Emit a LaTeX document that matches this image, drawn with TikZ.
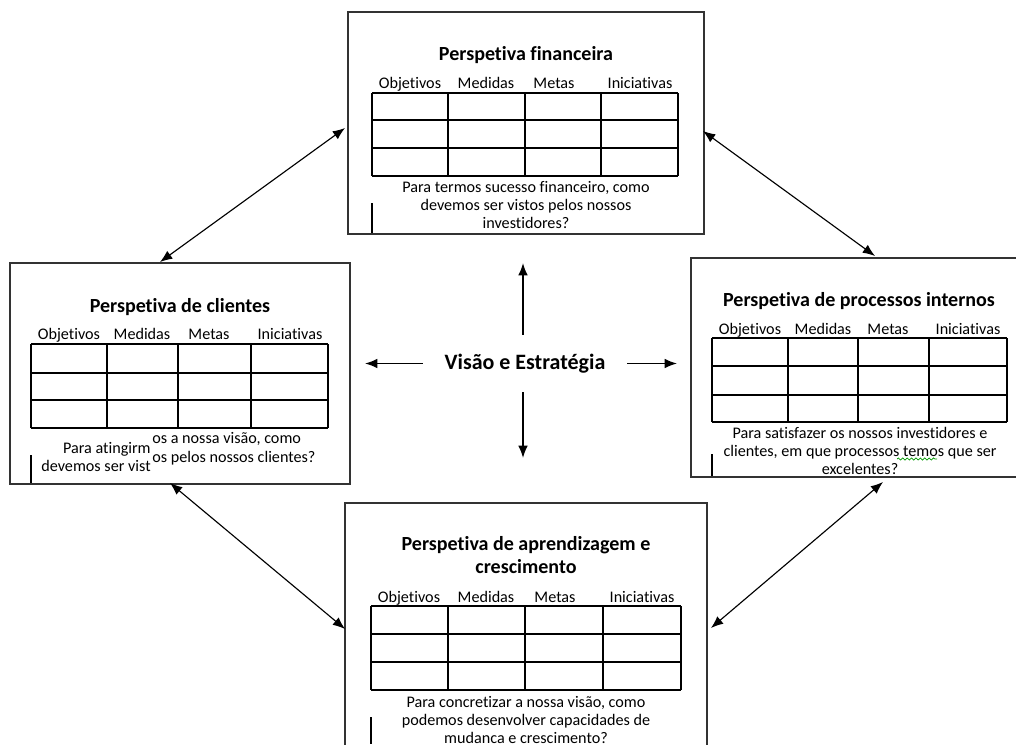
\documentclass[tikz,border=0pt]{standalone}
\usepackage{fontspec}
\setmainfont{Carlito}[Ligatures=NoCommon]
\usetikzlibrary{arrows.meta,calc,decorations.pathmorphing}
\tikzset{pbox/.style={draw=black!80,line width=.65pt,inner sep=0pt,outer sep=0pt},
  ttl/.style={font=\fontsize{11.4}{13.6}\selectfont\bfseries,align=center,inner sep=0pt},
  hdr/.style={font=\fontsize{9.2}{10.3}\selectfont,inner sep=0pt,anchor=base},
  txt/.style={font=\fontsize{9.2}{10.3}\selectfont,align=center,inner sep=0pt},
  tabline/.style={line width=.75pt},
  cursor/.style={line width=.7pt},
  dbl/.style={{Latex[length=7pt,width=5.5pt]}-{Latex[length=7pt,width=5.5pt]},line width=.65pt},
  seta/.style={-{Latex[length=7pt,width=5.5pt]},line width=.9pt}}

\begin{document}
\begin{tikzpicture}[x=0.02cm,y=-0.02cm]
  \useasboundingbox (0,0) rectangle (1016,744);
  \clip (0,0) rectangle (1016,744);
  % the four perspectives
  \node[pbox,minimum width=7.12cm,minimum height=4.44cm] (fin) at (526,123) {};
  \node[pbox,minimum width=6.8cm,minimum height=4.42cm] (cli) at (180,373.5) {};
  \node[pbox,minimum width=6.76cm,minimum height=4.38cm] (pro) at (860,367.5) {};
  \node[pbox,minimum width=7.24cm,minimum height=5.34cm] (apr) at (526,636.5) {};
  % financeira
  \node[ttl,anchor=base] (tfin) at (526,60) {Perspetiva financeira};
  \foreach \t/\x [count=\i] in {Objetivos/410,Medidas/486,Metas/554,Iniciativas/640}
    \node[hdr] (hfin\i) at (\x,88) {\t};
  \foreach \x in {372,448,525,601,678} \draw[tabline] (\x,93) -- (\x,176);
  \foreach \y in {93,120,148,176} \draw[tabline] (372,\y) -- (678,\y);
  \node[txt] (qfin) at (526,205) {Para termos sucesso financeiro, como\\devemos ser vistos pelos nossos\\investidores?};
  \draw[cursor] (372,203) -- (372,233);
  % clientes
  \node[ttl,anchor=base] (tcli) at (180,312) {Perspetiva de clientes};
  \foreach \t/\x [count=\i] in {Objetivos/69,Medidas/142,Metas/209,Iniciativas/290}
    \node[hdr] (hcli\i) at (\x,339) {\t};
  \foreach \x in {31,107,178,251,328} \draw[tabline] (\x,344) -- (\x,428);
  \foreach \y in {344,373,400,428} \draw[tabline] (31,\y) -- (328,\y);
  \node[txt,anchor=base east] (qcli1) at (151,453) {Para atingirm};
  \node[txt,anchor=base west] (qcli2) at (152,443) {os a nossa visão, como};
  \node[txt,anchor=base east] (qcli3) at (151,471) {devemos ser vist};
  \node[txt,anchor=base west] (qcli4) at (152,462) {os pelos nossos clientes?};
  \draw[cursor] (31,455) -- (31,483);
  % processos internos
  \node[ttl,anchor=base] (tpro) at (859,306) {Perspetiva de processos internos};
  \foreach \t/\x [count=\i] in {Objetivos/750,Medidas/823,Metas/888,Iniciativas/968}
    \node[hdr] (hpro\i) at (\x,334) {\t};
  \foreach \x in {712,788,858,929,1007} \draw[tabline] (\x,338) -- (\x,422);
  \foreach \y in {338,366,395,422} \draw[tabline] (712,\y) -- (1007,\y);
  \node[txt] (qpro) at (860,451) {Para satisfazer os nossos investidores e\\clientes, em que processos temos que ser\\excelentes?};
  \draw[green!60!black,line width=.4pt,decorate,decoration={snake,amplitude=.6pt,segment length=2.5pt}] (897,459) -- (937,459);
  \draw[cursor] (712,454) -- (712,476);
  % aprendizagem e crescimento
  \node[ttl] (tapr) at (526,555) {Perspetiva de aprendizagem e\\crescimento};
  \foreach \t/\x [count=\i] in {Objetivos/409,Medidas/486,Metas/555,Iniciativas/642}
    \node[hdr] (hapr\i) at (\x,602) {\t};
  \foreach \x in {371,448,525,603,681} \draw[tabline] (\x,606) -- (\x,690);
  \foreach \y in {606,634,662,690} \draw[tabline] (371,\y) -- (681,\y);
  \node[txt] (qapr) at (526,720) {Para concretizar a nossa visão, como\\podemos desenvolver capacidades de\\mudanca e crescimento?};
  \draw[cursor] (371,717) -- (371,744);
  % centro
  \node[font=\fontsize{12.5}{15}\selectfont\bfseries,minimum width=4.08cm,minimum height=1.14cm,inner sep=0pt] (vis) at (525,363.5) {Visão e Estratégia};
  \coordinate (vu) at (523,263);
  \coordinate (vd) at (523,458);
  \coordinate (vl) at (365,363.5);
  \coordinate (vr) at (677,363.5);
  \draw[seta] (vis.north -| vu) -- (vu);
  \draw[seta] (vis.south -| vd) -- (vd);
  \draw[seta] (vis.west) -- (vl);
  \draw[seta] (vis.east) -- (vr);
  % ligacoes entre perspetivas
  \draw[dbl] ($(cli.north)+(-20,-1)$) -- ($(fin.west)+(-3,5)$);
  \draw[dbl] ($(fin.east)+(-1,8)$) -- ($(pro.north)+(15,-2)$);
  \draw[dbl] ($(cli.south)+(-10,-1)$) -- ($(apr.west)+(0,-7.5)$);
  \draw[dbl] ($(pro.south)+(23,5)$) -- ($(apr.east)+(4,-8.5)$);
\end{tikzpicture}
\end{document}
